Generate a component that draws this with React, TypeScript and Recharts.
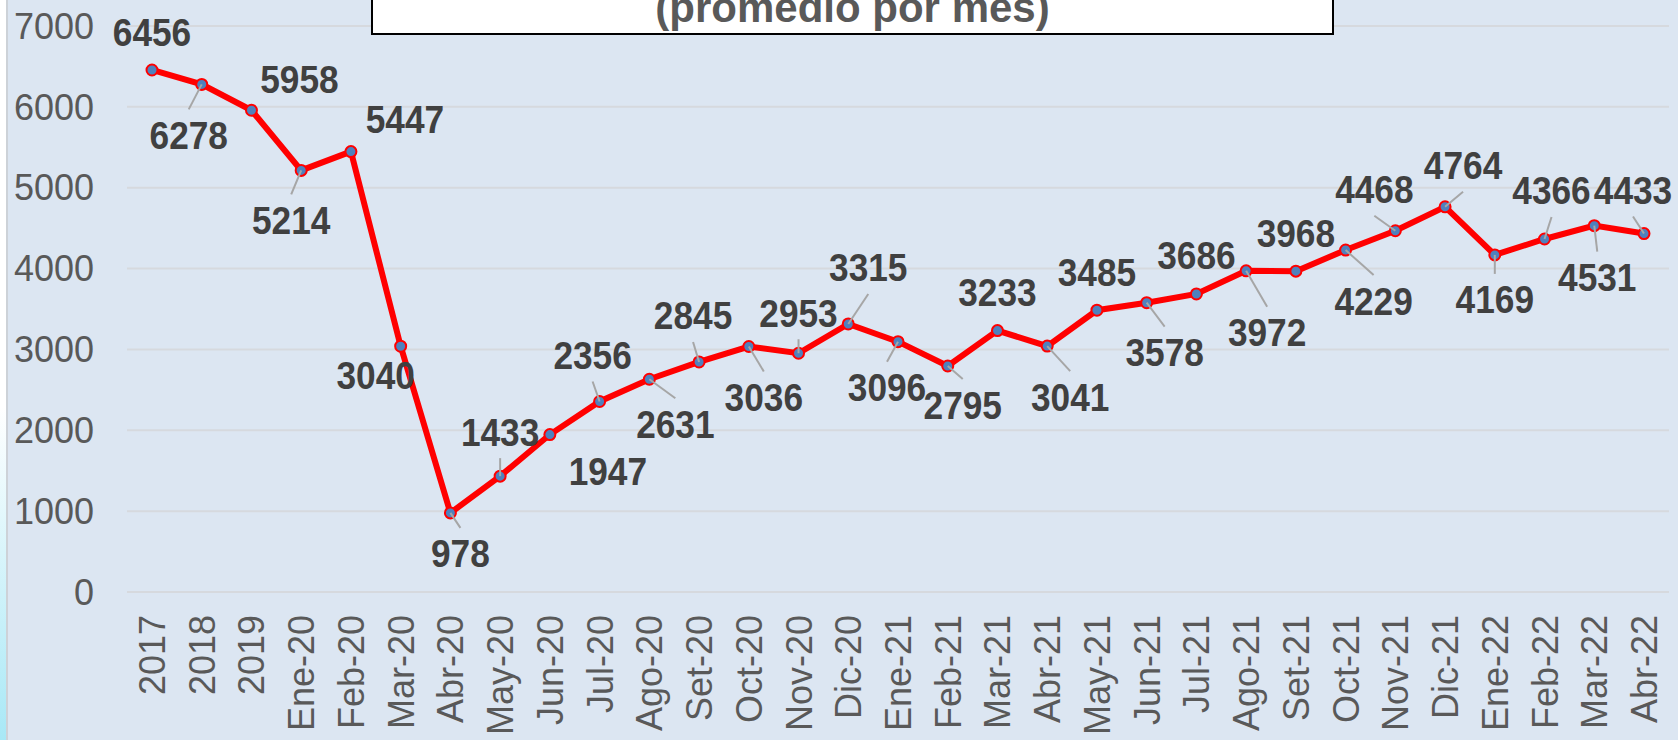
import React from 'react';
import { LineChart, Line, XAxis, YAxis, CartesianGrid, LabelList } from 'recharts';

const categories = [
  '2017', '2018', '2019', 'Ene-20', 'Feb-20', 'Mar-20', 'Abr-20', 'May-20',
  'Jun-20', 'Jul-20', 'Ago-20', 'Set-20', 'Oct-20', 'Nov-20', 'Dic-20',
  'Ene-21', 'Feb-21', 'Mar-21', 'Abr-21', 'May-21', 'Jun-21', 'Jul-21',
  'Ago-21', 'Set-21', 'Oct-21', 'Nov-21', 'Dic-21', 'Ene-22', 'Feb-22',
  'Mar-22', 'Abr-22',
];

const promedio = [
  6456, 6278, 5958, 5214, 5447, 3040, 978, 1433, 1947, 2356, 2631, 2845,
  3036, 2953, 3315, 3096, 2795, 3233, 3041, 3485, 3578, 3686, 3972, 3968,
  4229, 4468, 4764, 4169, 4366, 4531, 4433,
];

const yTicks = [0, 1000, 2000, 3000, 4000, 5000, 6000, 7000];

// where each data label sits relative to its point (px), and whether it has a leader line
const labelPlacement: [number, number, boolean][] = [
  [0, -37, false], [-13, 51, true], [48, -31, false], [-10, 50, true],
  [54, -32, false], [-25, 29, false], [10, 41, true], [0, -44, true],
  [58, 37, false], [-7, -46, true], [26, 45, true], [-6, -46, true],
  [15, 51, true], [0, -40, true], [20, -56, true], [-11, 46, true],
  [15, 39, true], [0, -38, false], [23, 51, true], [0, -38, false],
  [18, 50, true], [0, -38, false], [21, 62, true], [0, -38, false],
  [28, 51, true], [-21, -41, true], [18, -41, true], [0, 45, true],
  [7, -48, true], [3, 52, true], [-11, -43, true],
];

const data = categories.map((periodo, i) => ({ periodo, valor: promedio[i] }));

const FONT = '"Liberation Sans", Arial, sans-serif';

function RotatedTick(props: any) {
  const { x, y, payload } = props;
  return (
    <text
      x={x}
      y={y}
      dy={13}
      transform={`rotate(-90, ${x}, ${y})`}
      textAnchor="end"
      fill="#595959"
      fontSize={36}
      fontFamily={FONT}
    >
      {payload.value}
    </text>
  );
}

function PointLabel(props: any) {
  const { x, y, value } = props;
  let index = props.index;
  if (index === undefined || index === null) index = promedio.indexOf(value);
  const [dx, dy, leader] = labelPlacement[index] || [0, -38, false];
  const lx = x + dx;
  const ly = y + dy;
  const endY = ly + (dy > 0 ? -26 : 26);
  const txt = String(value);
  return (
    <g>
      {leader && (
        <line x1={x} y1={y} x2={lx} y2={endY} stroke="#A6A6A6" strokeWidth={2} />
      )}
      <text
        x={lx}
        y={ly + 13.5}
        textAnchor="middle"
        fill="#404040"
        fontSize={38}
        fontWeight="bold"
        fontFamily={FONT}
        textLength={txt.length * 19.6}
        lengthAdjust="spacingAndGlyphs"
      >
        {txt}
      </text>
    </g>
  );
}

export default function App() {
  return (
    <div
      style={{
        position: 'fixed',
        left: 0,
        top: 0,
        width: 1678,
        height: 740,
        background: '#DCE6F2',
        fontFamily: FONT,
        overflow: 'hidden',
      }}
    >
      {/* borde izquierdo */}
      <div
        style={{
          position: 'absolute',
          left: 0,
          top: 0,
          width: 6,
          height: 740,
          background: 'linear-gradient(to bottom, #ffffff 55%, #a8e8f6 100%)',
        }}
      />
      <div
        style={{
          position: 'absolute',
          left: 6,
          top: 0,
          width: 2,
          height: 740,
          background: '#CDD2D8',
        }}
      />

      <LineChart
        width={1678}
        height={740}
        data={data}
        margin={{ top: 26, right: 9, left: 0, bottom: 0 }}
      >
        <CartesianGrid vertical={false} stroke="#D6D9DE" strokeWidth={2} />
        <XAxis
          dataKey="periodo"
          interval={0}
          height={148}
          padding={{ left: 25, right: 25 }}
          axisLine={false}
          tickLine={false}
          tickSize={0}
          tickMargin={23}
          tick={<RotatedTick />}
        />
        <YAxis
          width={127}
          domain={[0, 7000]}
          ticks={yTicks}
          axisLine={false}
          tickLine={false}
          tickSize={0}
          tickMargin={33}
          tick={{ fill: '#595959', fontSize: 36, fontFamily: FONT }}
        />
        <Line
          type="linear"
          dataKey="valor"
          stroke="#FF0000"
          strokeWidth={6}
          dot={{ r: 5.5, fill: '#4F81BD', stroke: '#FF0000', strokeWidth: 2 }}
          isAnimationActive={false}
        >
          <LabelList dataKey="valor" content={<PointLabel />} />
        </Line>
      </LineChart>

      {/* cuadro de título (cortado arriba) */}
      <div
        style={{
          position: 'absolute',
          left: 371,
          top: -40,
          width: 963,
          height: 75,
          boxSizing: 'border-box',
          border: '2px solid #000',
          background: '#fff',
        }}
      >
        <div
          style={{
            position: 'absolute',
            left: 0,
            right: 0,
            top: 25,
            textAlign: 'center',
            fontWeight: 'bold',
            fontSize: 42,
            lineHeight: '42px',
            color: '#595959',
          }}
        >
          (promedio por mes)
        </div>
      </div>
    </div>
  );
}
